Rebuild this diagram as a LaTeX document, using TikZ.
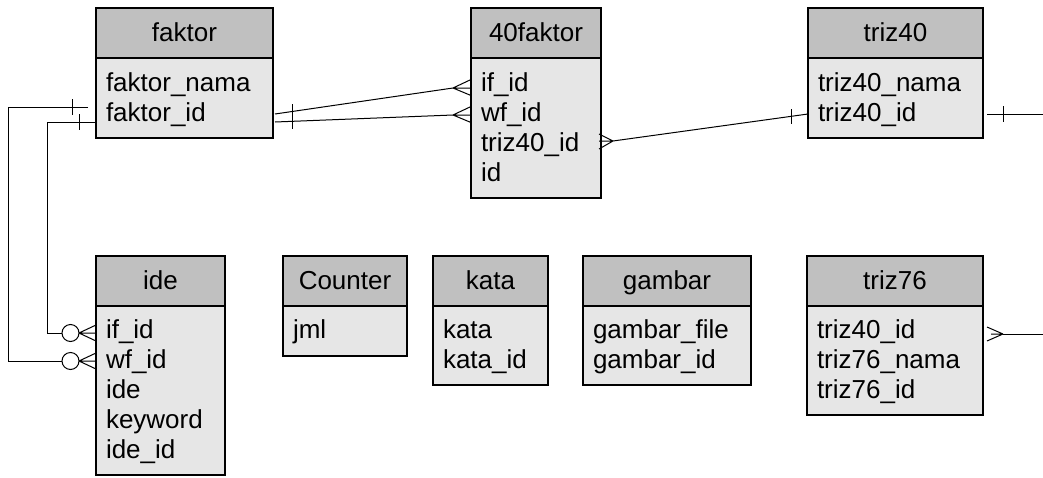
\documentclass[tikz,border=0pt]{standalone}
\usepackage{fontspec}
\setmainfont{Liberation Sans}
\usetikzlibrary{calc}
\definecolor{hdrgray}{HTML}{C0C0C0}
\definecolor{bodygray}{HTML}{E6E6E6}
\tikzset{
  hdr/.style={draw=black, line width=1.6pt, fill=hdrgray, minimum height=50pt, inner sep=0pt, outer sep=0pt},
  body/.style={draw=black, line width=1.6pt, fill=bodygray, inner sep=0pt, outer sep=0pt},
  ttl/.style={inner sep=0pt, outer sep=0pt, font=\fontsize{26}{30}\selectfont},
  rowtxt/.style={inner sep=0pt, outer sep=0pt, anchor=base west, font=\fontsize{26}{30}\selectfont},
  conn/.style={draw=black, line width=1pt},
}
\newcommand\erdtab[6]{%
  \node[hdr, minimum width=#4pt, anchor=north west] (#1H) at (#2,#3) {};
  \node[ttl, anchor=base] (#1T) at ($(#1H.north)+(0,33)$) {#6};
  \node[body, minimum width=#4pt, minimum height=#5pt, anchor=north west] (#1B) at (#1H.south west) {};
}
\begin{document}
\begin{tikzpicture}[x=1pt,y=-1pt]
\useasboundingbox (0,0) rectangle (1043,477);
% tables
\erdtab{fak}{96}{8}{177}{80}{faktor}
\node[rowtxt] (fak1) at ($(fakB.north west)+(10,33)$) {faktor\_nama};
\node[rowtxt] (fak2) at ($(fakB.north west)+(10,63)$) {faktor\_id};

\erdtab{ff}{471}{8}{130}{140}{40faktor}
\node[rowtxt] (ff1) at ($(ffB.north west)+(10,33)$) {if\_id};
\node[rowtxt] (ff2) at ($(ffB.north west)+(10,63)$) {wf\_id};
\node[rowtxt] (ff3) at ($(ffB.north west)+(10,93)$) {triz40\_id};
\node[rowtxt] (ff4) at ($(ffB.north west)+(10,123)$) {id};

\erdtab{tf}{808}{8}{175}{80}{triz40}
\node[rowtxt] (tf1) at ($(tfB.north west)+(10,33)$) {triz40\_nama};
\node[rowtxt] (tf2) at ($(tfB.north west)+(10,63)$) {triz40\_id};

\erdtab{ide}{96}{256}{129}{169}{ide}
\node[rowtxt] (ide1) at ($(ideB.north west)+(10,32)$) {if\_id};
\node[rowtxt] (ide2) at ($(ideB.north west)+(10,62)$) {wf\_id};
\node[rowtxt] (ide3) at ($(ideB.north west)+(10,92)$) {ide};
\node[rowtxt] (ide4) at ($(ideB.north west)+(10,122)$) {keyword};
\node[rowtxt] (ide5) at ($(ideB.north west)+(10,152)$) {ide\_id};

\erdtab{cnt}{283}{256}{124}{50}{Counter}
\node[rowtxt] (cnt1) at ($(cntB.north west)+(10,32)$) {jml};

\erdtab{kata}{433}{256}{115}{79}{kata}
\node[rowtxt] (kata1) at ($(kataB.north west)+(10,32)$) {kata};
\node[rowtxt] (kata2) at ($(kataB.north west)+(10,62)$) {kata\_id};

\erdtab{gam}{583}{256}{168}{79}{gambar}
\node[rowtxt] (gam1) at ($(gamB.north west)+(10,32)$) {gambar\_file};
\node[rowtxt] (gam2) at ($(gamB.north west)+(10,62)$) {gambar\_id};

\erdtab{ts}{807}{256}{176}{109}{triz76}
\node[rowtxt] (ts1) at ($(tsB.north west)+(10,32)$) {triz40\_id};
\node[rowtxt] (ts2) at ($(tsB.north west)+(10,62)$) {triz76\_nama};
\node[rowtxt] (ts3) at ($(tsB.north west)+(10,92)$) {triz76\_id};

% ---------- connectors ----------
% faktor -> ide (wf_id)
\coordinate (fL1) at ($(fakB.north west)+(-8,49)$);
\coordinate (iL2) at ($(ideB.north west)+(0,55)$);
\draw[conn] (fL1) -- ($(fL1)+(-80,0)$) |- ($(iL2)+(-34,0)$);
\draw[conn] ($(fL1)+(-16,-8)$) -- ++(0,16);
\draw[conn] ($(iL2)+(-25.5,0)$) circle[radius=8.5pt];
\draw[conn] ($(iL2)+(-17,0)$) -- ($(iL2)+(0,-8)$)
            ($(iL2)+(-17,0)$) -- (iL2)
            ($(iL2)+(-17,0)$) -- ($(iL2)+(0,8)$);
% faktor -> ide (if_id)
\coordinate (fL2) at ($(fakB.north west)+(0,64)$);
\coordinate (iL1) at ($(ideB.north west)+(0,27)$);
\draw[conn] (fL2) -- ($(fL2)+(-49,0)$) |- ($(iL1)+(-34,0)$);
\draw[conn] ($(fL2)+(-17,-8)$) -- ++(0,16);
\draw[conn] ($(iL1)+(-25.5,0)$) circle[radius=8.5pt];
\draw[conn] ($(iL1)+(-17,0)$) -- ($(iL1)+(0,-8)$)
            ($(iL1)+(-17,0)$) -- (iL1)
            ($(iL1)+(-17,0)$) -- ($(iL1)+(0,8)$);
% faktor -> 40faktor (if_id, wf_id)
\coordinate (fR1) at ($(fakB.north east)+(2,56)$);
\coordinate (fR2) at ($(fakB.north east)+(2,64)$);
\coordinate (ffA1) at ($(ffB.north west)+(-18,30)$);
\coordinate (ffA2) at ($(ffB.north west)+(-18,57)$);
\draw[conn] (fR1) -- (ffA1);
\draw[conn] (fR2) -- (ffA2);
\draw[conn] ($(fakB.north east)+(19,46)$) -- ++(0,25);
\draw[conn] (ffA1) -- ($(ffA1)+(18,-8.5)$) (ffA1) -- ($(ffA1)+(18,0)$) (ffA1) -- ($(ffA1)+(18,7.5)$);
\draw[conn] (ffA2) -- ($(ffA2)+(18,-8.5)$) (ffA2) -- ($(ffA2)+(18,0)$) (ffA2) -- ($(ffA2)+(18,7.5)$);
% triz40 -> 40faktor (triz40_id)
\coordinate (tfL) at ($(tfB.north west)+(0,56)$);
\coordinate (ffA3) at ($(ffB.north east)+(12,83)$);
\draw[conn] (tfL) -- (ffA3);
\draw[conn] ($(tfL)+(-17,-5)$) -- ++(0,15);
\draw[conn] (ffA3) -- ($(ffA3)+(-14,-7)$) (ffA3) -- ($(ffA3)+(-14,0)$) (ffA3) -- ($(ffA3)+(-14,8)$);
% triz40 right stub
\coordinate (tfR) at ($(tfB.north east)+(4,56)$);
\coordinate (tfEnd) at (1043,114);
\draw[conn] (tfR) -- (tfEnd);
\draw[conn] ($(tfR)+(16,-8)$) -- ++(0,16);
% triz76 right stub
\coordinate (tsA) at ($(tsB.north east)+(20,28)$);
\coordinate (tsEnd) at (1043,334);
\draw[conn] (tsA) -- (tsEnd);
\draw[conn] (tsA) -- ($(tsA)+(-16,-7)$) (tsA) -- ($(tsA)+(-12,0)$) (tsA) -- ($(tsA)+(-16,7)$);
\end{tikzpicture}
\end{document}
